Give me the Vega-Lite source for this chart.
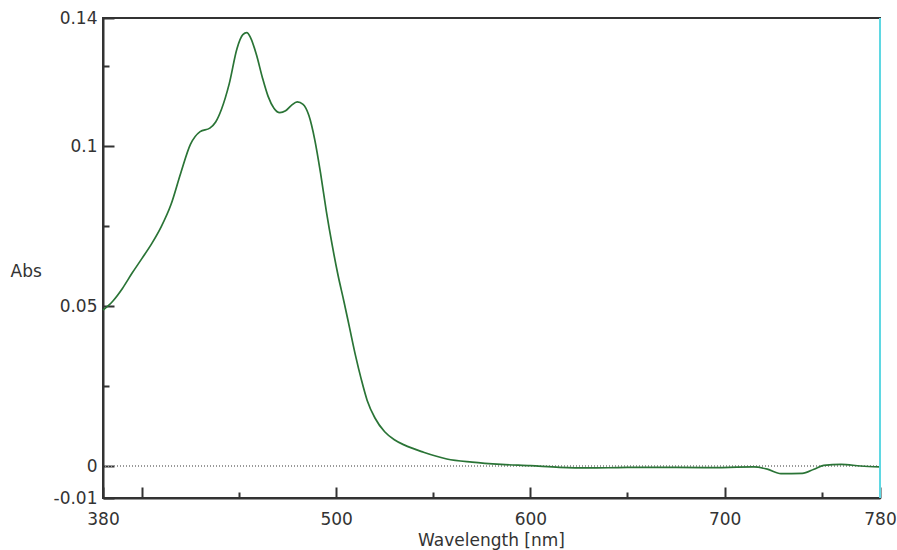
{
  "$schema": "https://vega.github.io/schema/vega-lite/v6.json",
  "width": 777,
  "height": 480,
  "autosize": {"type": "none"},
  "padding": {"left": 103, "top": 18, "right": 17, "bottom": 52},
  "background": "white",
  "config": {
    "view": {"stroke": "#333333", "strokeWidth": 2},
    "axis": {
      "grid": false,
      "domainColor": "#333333",
      "domainWidth": 2,
      "tickColor": "#333333",
      "tickWidth": 2,
      "labelColor": "#333333",
      "labelFont": "DejaVu Sans",
      "labelFontSize": 17,
      "titleColor": "#333333",
      "titleFont": "DejaVu Sans",
      "titleFontSize": 17,
      "titleFontWeight": "normal"
    }
  },
  "data": {
    "values": [
      {"wl": 380, "abs": 0.0487},
      {"wl": 385, "abs": 0.0515},
      {"wl": 390, "abs": 0.0555},
      {"wl": 395, "abs": 0.0603},
      {"wl": 400, "abs": 0.0648},
      {"wl": 405, "abs": 0.0694},
      {"wl": 410, "abs": 0.0748},
      {"wl": 415, "abs": 0.0817},
      {"wl": 420, "abs": 0.0915},
      {"wl": 425, "abs": 0.1005},
      {"wl": 430, "abs": 0.1045},
      {"wl": 435, "abs": 0.1056},
      {"wl": 438, "abs": 0.1075},
      {"wl": 441, "abs": 0.1115},
      {"wl": 445, "abs": 0.1195},
      {"wl": 449, "abs": 0.1305},
      {"wl": 452, "abs": 0.1348},
      {"wl": 454, "abs": 0.1354},
      {"wl": 456, "abs": 0.1338},
      {"wl": 459, "abs": 0.1285},
      {"wl": 462, "abs": 0.1215},
      {"wl": 465, "abs": 0.1155},
      {"wl": 468, "abs": 0.1118},
      {"wl": 471, "abs": 0.1104},
      {"wl": 474, "abs": 0.111},
      {"wl": 477, "abs": 0.1127},
      {"wl": 480, "abs": 0.1138},
      {"wl": 483, "abs": 0.113},
      {"wl": 486, "abs": 0.1095},
      {"wl": 489, "abs": 0.102},
      {"wl": 492, "abs": 0.0915},
      {"wl": 495, "abs": 0.0795},
      {"wl": 498, "abs": 0.069},
      {"wl": 501, "abs": 0.0596},
      {"wl": 504, "abs": 0.0515},
      {"wl": 507, "abs": 0.043},
      {"wl": 510, "abs": 0.0345},
      {"wl": 513, "abs": 0.027},
      {"wl": 516, "abs": 0.0205},
      {"wl": 520, "abs": 0.015},
      {"wl": 525, "abs": 0.0107},
      {"wl": 530, "abs": 0.0082},
      {"wl": 535, "abs": 0.0066},
      {"wl": 545, "abs": 0.0043},
      {"wl": 557, "abs": 0.0022},
      {"wl": 570, "abs": 0.0012},
      {"wl": 585, "abs": 0.0005},
      {"wl": 600, "abs": 0.0001},
      {"wl": 615, "abs": -0.0004},
      {"wl": 630, "abs": -0.0006},
      {"wl": 645, "abs": -0.0005},
      {"wl": 660, "abs": -0.0004},
      {"wl": 690, "abs": -0.0005},
      {"wl": 715, "abs": -0.0003},
      {"wl": 722, "abs": -0.001},
      {"wl": 729, "abs": -0.0024},
      {"wl": 740, "abs": -0.0023},
      {"wl": 746, "abs": -0.001},
      {"wl": 751, "abs": 0.0002},
      {"wl": 760, "abs": 0.0005},
      {"wl": 770, "abs": 0.0},
      {"wl": 780, "abs": -0.0003}
    ]
  },
  "layer": [
    {
      "mark": {"type": "rule", "color": "#999999", "strokeDash": [1, 2], "strokeWidth": 1},
      "encoding": {"y": {"datum": 0, "type": "quantitative"}}
    },
    {
      "mark": {"type": "line", "color": "#2a7436", "strokeWidth": 1.7, "interpolate": "monotone"},
      "encoding": {
        "x": {
          "field": "wl",
          "type": "quantitative",
          "scale": {"domain": [380, 780], "nice": false, "zero": false},
          "axis": {
            "title": "Wavelength [nm]",
            "values": [380, 400, 450, 500, 550, 600, 650, 700, 750, 780],
            "labelExpr": "indexof([380,500,600,700,780], datum.value) >= 0 ? '' + datum.value : ''",
            "tickSize": {"condition": {"test": "datum.value % 50 !== 0 || datum.value % 100 === 0", "value": -11}, "value": -6},
            "labelPadding": 24,
            "labelFlush": false,
            "labelOverlap": false,
            "titleAnchor": "middle",
            "titleX": 388,
            "titleY": 47,
            "titleAlign": "center",
            "titleBaseline": "alphabetic"
          }
        },
        "y": {
          "field": "abs",
          "type": "quantitative",
          "scale": {"domain": [-0.01, 0.14], "nice": false, "zero": false},
          "axis": {
            "title": "Abs",
            "values": [-0.01, 0, 0.025, 0.05, 0.075, 0.1, 0.125, 0.14],
            "labelExpr": "indexof([-0.01,0,0.05,0.1,0.14], datum.value) >= 0 ? '' + datum.value : ''",
            "tickSize": {"condition": {"test": "indexof([-0.01,0,0.05,0.1,0.14], datum.value) >= 0", "value": -11}, "value": -6},
            "labelPadding": 17,
            "labelFlush": false,
            "labelOverlap": false,
            "titleAngle": 0,
            "titleX": -93,
            "titleY": 258,
            "titleAlign": "left",
            "titleBaseline": "alphabetic"
          }
        }
      }
    },
    {
      "mark": {"type": "rule", "color": "#5fd8e3", "strokeWidth": 2},
      "encoding": {"x": {"datum": 780, "type": "quantitative"}}
    }
  ]
}
